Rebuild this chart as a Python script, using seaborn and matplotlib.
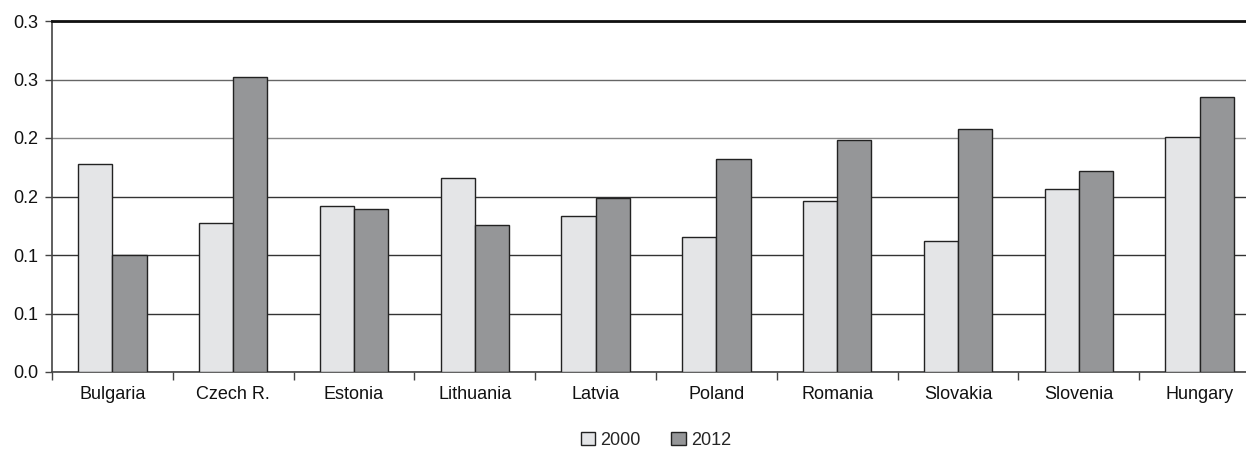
import matplotlib
matplotlib.use("Agg")
import matplotlib.pyplot as plt
import seaborn as sns
import pandas as pd

# Values by country for the two reference years
countries = ["Bulgaria", "Czech R.", "Estonia", "Lithuania", "Latvia",
             "Poland", "Romania", "Slovakia", "Slovenia", "Hungary"]
values_2000 = [0.178, 0.127, 0.142, 0.166, 0.133, 0.115, 0.146, 0.112, 0.156, 0.201]
values_2012 = [0.100, 0.252, 0.139, 0.126, 0.149, 0.182, 0.198, 0.208, 0.172, 0.235]
years = ["2000", "2012"]

# Y axis ticks every 0.05, labelled to one decimal (half rounded up)
y_ticks = [0.0, 0.05, 0.10, 0.15, 0.20, 0.25, 0.30]
y_tick_labels = ["0.0", "0.1", "0.1", "0.2", "0.2", "0.3", "0.3"]

df = pd.DataFrame({
    "country": countries * 2,
    "value": values_2000 + values_2012,
    "year": [years[0]] * len(countries) + [years[1]] * len(countries),
})

sns.set_theme(style="white")
plt.rcParams["font.family"] = ["Liberation Sans", "DejaVu Sans"]
fs = 13

fig = plt.figure(figsize=(12.46, 4.53), dpi=100)
ax = fig.add_axes([52 / 1246, 1 - 372 / 453, (1260 - 52) / 1246, (372 - 21) / 453])

sns.barplot(data=df, x="country", y="value", hue="year", hue_order=years,
            palette={"2000": "#e4e5e7", "2012": "#959698"},
            width=0.565, edgecolor="#222222", linewidth=1.0,
            saturation=1, ax=ax, zorder=3)

ax.set_ylim(0, 0.3)
ax.set_xlim(-0.5, len(countries) - 0.5)
ax.set_yticks(y_ticks)
ax.set_yticklabels(y_tick_labels)
ax.set_xlabel("")
ax.set_ylabel("")

# Horizontal gridlines
ax.yaxis.grid(True, color="#333333", linewidth=1.0)
ax.set_axisbelow(True)
grid_colors = ["#333333", "#333333", "#333333", "#333333", "#888888", "#666666", "#222222"]
for gl, c in zip(ax.get_ygridlines(), grid_colors):
    gl.set_color(c)

# Spines
for side in ["left", "bottom"]:
    ax.spines[side].set_color("#444444")
    ax.spines[side].set_linewidth(1.2)
ax.spines["top"].set_color("#111111")
ax.spines["top"].set_linewidth(2.0)
ax.spines["right"].set_visible(False)

# Tick marks: y ticks outward, x ticks at category boundaries
ax.tick_params(axis="y", which="major", left=True, length=5, width=1.0,
               color="#444444", pad=5, labelsize=fs, labelcolor="#111111")
ax.tick_params(axis="x", which="major", bottom=False, length=0, pad=10,
               labelsize=fs, labelcolor="#111111")
ax.set_xticks([i - 0.5 for i in range(len(countries) + 1)], minor=True)
ax.tick_params(axis="x", which="minor", bottom=True, length=6, width=1.0,
               color="#444444")

sns.move_legend(ax, "center", bbox_to_anchor=(0.5, -0.194), ncol=2,
                frameon=False, title=None, fontsize=fs,
                handlelength=0.8, handleheight=0.8, handletextpad=0.3,
                columnspacing=1.7)

fig.savefig("out.png", dpi=100)
